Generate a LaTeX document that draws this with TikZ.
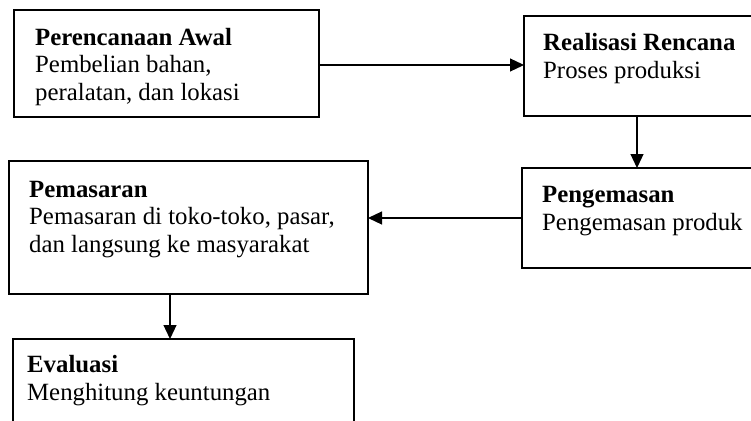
\documentclass[tikz,border=0pt]{standalone}
\usepackage{fontspec}
\setmainfont{Liberation Serif}
\usetikzlibrary{arrows.meta,calc}
\begin{document}
\begin{tikzpicture}[x=1pt,y=-1pt,
  box/.style={draw=black, line width=1.5pt, rectangle, anchor=north west, inner sep=0pt, outer sep=0pt},
  txt/.style={anchor=base west, align=left, inner sep=0pt, font=\fontsize{24.8}{27.5}\selectfont},
  conn/.style={draw=black, line width=1.2pt, -{Triangle[length=14pt,width=13pt]}}]
\useasboundingbox (0,0) rectangle (751,420);
\node[box, minimum width=305pt, minimum height=107pt] (b1) at (14,10) {};
\node[box, minimum width=230pt, minimum height=100pt] (b2) at (524,16) {};
\node[box, minimum width=232pt, minimum height=100pt] (b3) at (522,168) {};
\node[box, minimum width=359pt, minimum height=133pt] (b4) at (9,161) {};
\node[box, minimum width=341pt, minimum height=90pt] (b5) at (13,339) {};
\node[txt] (t1) at (35,100) {\textbf{Perencanaan Awal}\\Pembelian bahan,\\peralatan, dan lokasi};
\node[txt] (t2) at (543,78) {\textbf{Realisasi Rencana}\\Proses produksi};
\node[txt] (t3) at (542,230) {\textbf{Pengemasan}\\Pengemasan produk};
\node[txt] (t4) at (29,252) {\textbf{Pemasaran}\\Pemasaran di toko-toko, pasar,\\dan langsung ke masyarakat};
\node[txt] (t5) at (27,400) {\textbf{Evaluasi}\\Menghitung keuntungan};
\coordinate (c4) at ($(b4.south west)+(161,0)$);
\draw[conn] ($(b1.east)+(0,1.5)$) -- ($(b1.east -| b2.west)+(0,1.5)$);
\draw[conn] (b2.south -| 637,0) -- (b3.north -| 637,0);
\draw[conn] (b3.west) -- (b3.west -| b4.east);
\draw[conn] (c4) -- (c4 |- b5.north);
\end{tikzpicture}
\end{document}
